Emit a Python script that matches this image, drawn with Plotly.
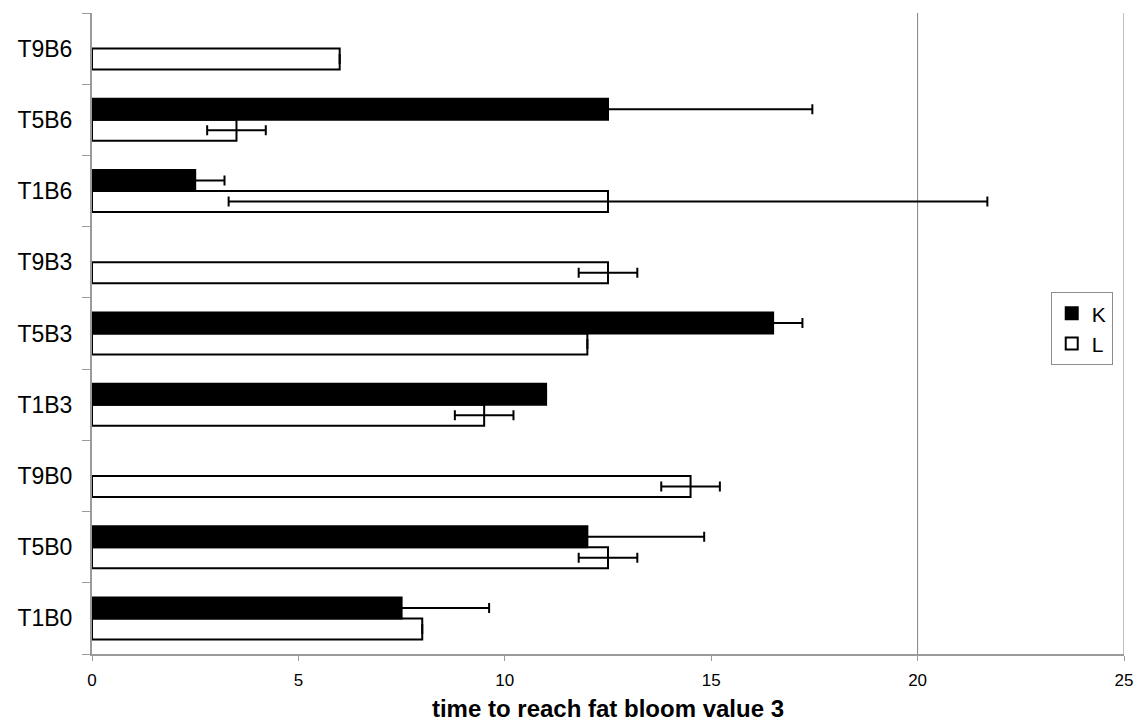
import plotly.graph_objects as go

# Treatments, listed from the bottom of the chart to the top
categories = ["T1B0", "T5B0", "T9B0", "T1B3", "T5B3", "T9B3", "T1B6", "T5B6", "T9B6"]

# Time to reach fat bloom value 3, with standard deviations (None = no value / no bar)
k_values = [7.5, 12.0, None, 11.0, 16.5, None, 2.5, 12.5, None]
k_errors = [2.12, 2.83, None, None, 0.71, None, 0.71, 4.95, None]

l_values = [8.0, 12.5, 14.5, 9.5, 12.0, 12.5, 12.5, 3.5, 6.0]
l_errors = [None, 0.71, 0.71, 0.71, None, 0.71, 9.19, 0.71, None]

x_ticks = [0, 5, 10, 15, 20, 25]
x_gridlines = [20, 25]

FONT = "Liberation Sans, Arial, sans-serif"
AXIS_GREY = "#9a9a9a"

fig = go.Figure()

# White bars (L) are added first so they sit below the black bars within each group
fig.add_trace(go.Bar(
    name="L",
    y=categories,
    x=l_values,
    orientation="h",
    marker=dict(color="white", line=dict(color="black", width=2)),
    error_x=dict(type="data", array=l_errors, symmetric=True,
                 color="black", thickness=2, width=5),
))

fig.add_trace(go.Bar(
    name="K",
    y=categories,
    x=k_values,
    orientation="h",
    marker=dict(color="black", line=dict(color="black", width=2)),
    error_x=dict(type="data", array=k_errors, symmetric=True,
                 color="black", thickness=2, width=5),
))

# Vertical reference lines
for gx in x_gridlines:
    fig.add_shape(type="line", xref="x", yref="paper", x0=gx, x1=gx, y0=0, y1=1,
                  line=dict(color="#808080", width=1), layer="below")

fig.update_layout(
    width=1137,
    height=722,
    margin=dict(l=92, r=13, t=13, b=68),
    paper_bgcolor="white",
    plot_bgcolor="white",
    barmode="group",
    bargap=0.41,
    bargroupgap=0,
    showlegend=True,
    legend=dict(
        x=0.929, xanchor="left",
        y=0.5645, yanchor="top",
        traceorder="reversed",
        bgcolor="white",
        bordercolor="#8c8c8c",
        borderwidth=1,
        font=dict(family=FONT, size=21, color="black"),
        itemwidth=30,
        tracegroupgap=0,
    ),
    font=dict(family=FONT, color="black"),
)

fig.update_xaxes(
    range=[0, 25],
    tickmode="array",
    tickvals=x_ticks,
    ticktext=[str(v) for v in x_ticks],
    ticks="outside",
    ticklen=5,
    tickcolor=AXIS_GREY,
    tickfont=dict(family=FONT, size=17, color="black"),
    ticklabelstandoff=5,
    showline=True,
    linecolor=AXIS_GREY,
    linewidth=2,
    showgrid=False,
    zeroline=False,
    title=dict(text="<b>time to reach fat bloom value 3</b>",
               font=dict(family=FONT, size=24, color="black"),
               standoff=11),
    automargin=False,
)

fig.update_yaxes(
    type="category",
    categoryorder="array",
    categoryarray=categories,
    ticks="outside",
    tickson="boundaries",
    ticklen=8,
    tickcolor=AXIS_GREY,
    tickfont=dict(family=FONT, size=23, color="black"),
    ticklabelstandoff=13,
    showline=True,
    linecolor=AXIS_GREY,
    linewidth=2,
    showgrid=False,
    zeroline=False,
    automargin=False,
)

fig.write_html("out.html")
